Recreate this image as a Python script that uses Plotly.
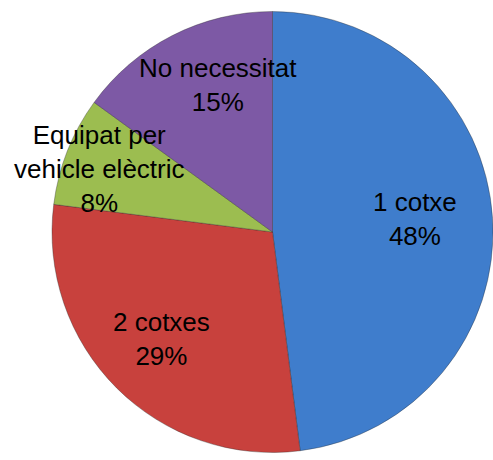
import math
import plotly.graph_objects as go

labels = ["1 cotxe", "2 cotxes", "Equipat per<br>vehicle elèctric", "No necessitat"]
values = [48, 29, 8, 15]
colors = ["#3f7dcc", "#c8413d", "#9cbd50", "#7d59a5"]

# label placement: (radial fraction, angle tweak in degrees)
label_pos = [(0.65, -1.5), (0.70, 1.0), (0.835, -1.5), (0.71, 6.5)]

W, H = 493, 460
dom_x = [52 / W, 1.0]
dom_y = [7 / H, 449 / H]

fig = go.Figure(go.Pie(
    labels=labels,
    values=values,
    sort=False,
    direction="clockwise",
    rotation=0,
    marker=dict(colors=colors, line=dict(color="rgba(40,40,40,0.35)", width=1)),
    textinfo="none",
    hoverinfo="label+percent",
    showlegend=False,
    domain=dict(x=dom_x, y=dom_y),
))

# pie geometry in pixels (paper coords)
cx = (dom_x[0] + dom_x[1]) / 2 * W
cy = (dom_y[0] + dom_y[1]) / 2 * H
R = min((dom_x[1] - dom_x[0]) * W, (dom_y[1] - dom_y[0]) * H) / 2

total = sum(values)
cum = 0
for lab, v, (f, dt) in zip(labels, values, label_pos):
    mid = (cum + v / 2) / total * 360 + dt
    cum += v
    th = math.radians(mid)
    px = cx + f * R * math.sin(th)
    py = cy + f * R * math.cos(th)
    pct = round(v / total * 100)
    fig.add_annotation(
        x=px / W, y=py / H, xref="paper", yref="paper",
        text=f"{lab}<br>{pct}%", showarrow=False,
        font=dict(family="Liberation Sans, Arial, sans-serif", size=26, color="black"),
        xanchor="center", yanchor="middle", align="center",
    )

fig.update_layout(
    width=W, height=H,
    margin=dict(l=0, r=0, t=0, b=0),
    paper_bgcolor="white",
    plot_bgcolor="white",
)

fig.write_html("out.html")
